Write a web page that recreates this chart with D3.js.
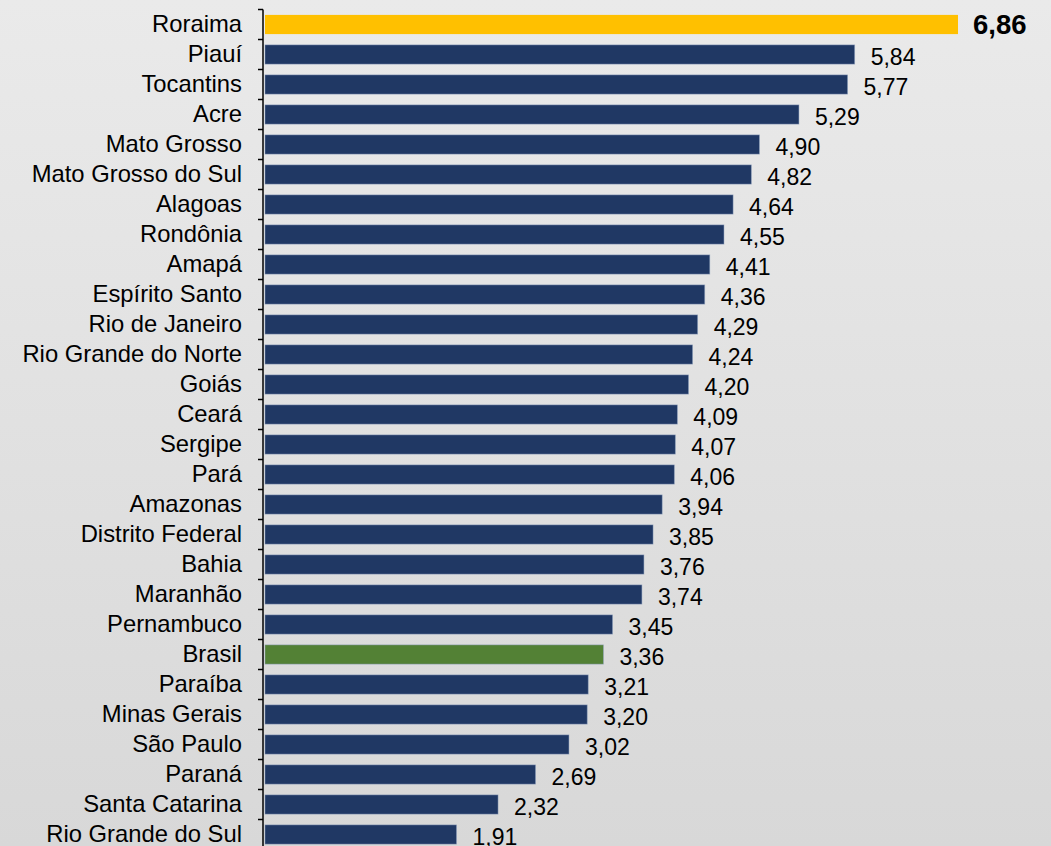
<!DOCTYPE html>
<html><head><meta charset="utf-8">
<script src="https://cdn.jsdelivr.net/npm/d3@7"></script>
<style>html,body{margin:0;padding:0;overflow:hidden;}svg{display:block;}</style>
</head><body>
<svg id="c" width="1051" height="846"></svg>
<script>
const categories = ["Roraima","Piauí","Tocantins","Acre","Mato Grosso","Mato Grosso do Sul","Alagoas","Rondônia","Amapá","Espírito Santo","Rio de Janeiro","Rio Grande do Norte","Goiás","Ceará","Sergipe","Pará","Amazonas","Distrito Federal","Bahia","Maranhão","Pernambuco","Brasil","Paraíba","Minas Gerais","São Paulo","Paraná","Santa Catarina","Rio Grande do Sul"];
const values = [6.86,5.84,5.77,5.29,4.90,4.82,4.64,4.55,4.41,4.36,4.29,4.24,4.20,4.09,4.07,4.06,3.94,3.85,3.76,3.74,3.45,3.36,3.21,3.20,3.02,2.69,2.32,1.91];
const highlightTop = "Roraima";
const highlightNational = "Brasil";

const W = 1051, H = 846;
const svg = d3.select("#c");
const defs = svg.append("defs");
const g = defs.append("linearGradient").attr("id","bg").attr("x1",0).attr("y1",0).attr("x2",0).attr("y2",1);
g.append("stop").attr("offset","0%").attr("stop-color","#eaeaea");
g.append("stop").attr("offset","100%").attr("stop-color","#d8d8d8");
svg.append("rect").attr("width",W).attr("height",H).attr("fill","url(#bg)");

const x0 = 263;
const x = d3.scaleLinear().domain([0, 6.86]).range([x0, 958]);
const y = d3.scaleBand().domain(categories).range([9.5, 9.5 + 30*categories.length]).paddingInner(0.36).paddingOuter(0.18);

const color = d => d === highlightTop ? "#ffc000" : d === highlightNational ? "#538135" : "#203864";

svg.selectAll("rect.bar").data(categories).join("rect")
  .attr("class","bar")
  .attr("x", x(0)+2)
  .attr("y", d => y(d))
  .attr("width", (d,i) => x(values[i]) - x(0) - 2)
  .attr("height", y.bandwidth())
  .attr("fill", color)
  .attr("stroke", d => d === highlightTop ? "none" : "rgba(140,160,190,0.6)")
  .attr("stroke-width", 0.8);

// axis
const step = 30;
const ag = svg.append("g").attr("transform", `translate(${x0},0)`);
ag.append("line").attr("x1",0).attr("x2",0).attr("y1",9.5).attr("y2",H).attr("stroke","#000").attr("stroke-width",1.5);
const tickYs = d3.range(categories.length+1).map(i => 9.5 + i*step);
ag.selectAll("line.t").data(tickYs).join("line").attr("class","t")
  .attr("x1",-5).attr("x2",0).attr("y1",d=>d).attr("y2",d=>d).attr("stroke","#000").attr("stroke-width",1.5);

svg.selectAll("text.cat").data(categories).join("text")
  .attr("class","cat")
  .attr("x", 242)
  .attr("y", d => y(d) + y.bandwidth()/2 - 1)
  .attr("dy","0.35em")
  .attr("text-anchor","end")
  .attr("font-family","'Liberation Sans', Arial, sans-serif")
  .attr("font-size","23.8px")
  .attr("fill","#000")
  .text(d => d);

svg.selectAll("text.val").data(categories).join("text")
  .attr("class","val")
  .attr("x", (d,i) => x(values[i]) + (d === highlightTop ? 15 : 16))
  .attr("y", d => y(d) + y.bandwidth()/2 + (d === highlightTop ? -0.5 : 2))
  .attr("dy","0.35em")
  .attr("font-family","'Liberation Sans', Arial, sans-serif")
  .attr("font-size", d => d === highlightTop ? "27.5px" : "23px")
  .attr("font-weight", d => d === highlightTop ? "bold" : "normal")
  .attr("fill","#000")
  .text((d,i) => d3.format(".2f")(values[i]).replace(".", ","));
</script>
</body></html>
